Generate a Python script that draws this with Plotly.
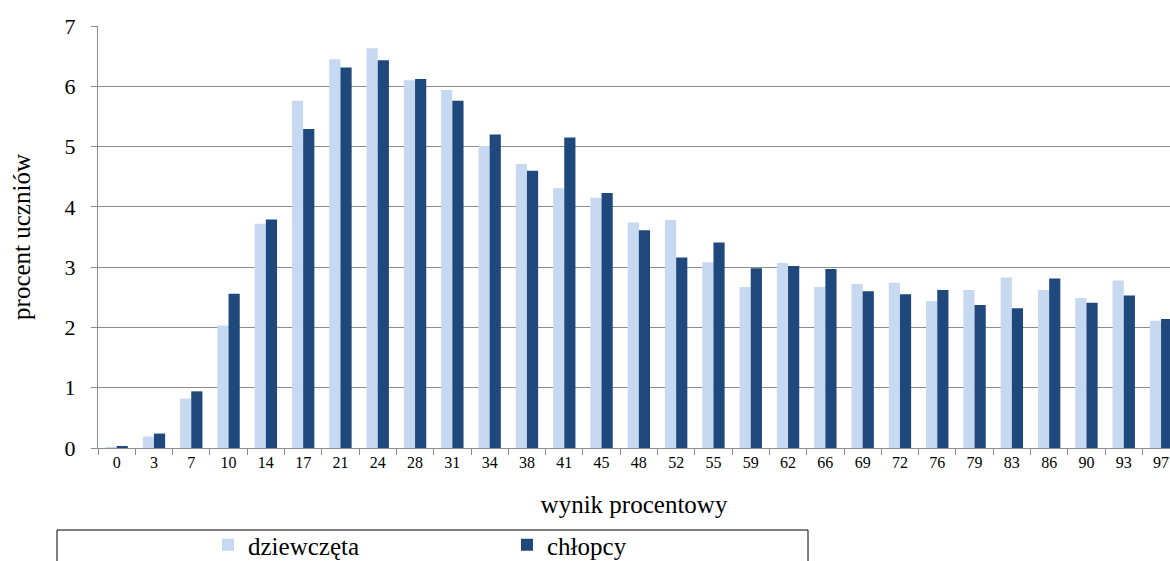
import plotly.graph_objects as go

categories = ["0", "3", "7", "10", "14", "17", "21", "24", "28", "31", "34", "38", "41", "45",
              "48", "52", "55", "59", "62", "66", "69", "72", "76", "79", "83", "86", "90", "93", "97"]
dziewczeta = [0.01, 0.19, 0.82, 2.03, 3.72, 5.76, 6.45, 6.63, 6.10, 5.94, 5.01, 4.71, 4.31, 4.15,
              3.74, 3.78, 3.08, 2.67, 3.07, 2.67, 2.72, 2.74, 2.44, 2.62, 2.83, 2.62, 2.49, 2.78, 2.11]
chlopcy = [0.03, 0.24, 0.94, 2.56, 3.79, 5.29, 6.31, 6.43, 6.12, 5.76, 5.20, 4.60, 5.15, 4.23,
           3.61, 3.16, 3.41, 2.98, 3.02, 2.97, 2.60, 2.55, 2.62, 2.37, 2.32, 2.81, 2.41, 2.53, 2.14]
y_ticks = [0, 1, 2, 3, 4, 5, 6, 7]

FONT = "Liberation Serif"
W, H = 1170, 561
L, R, T, B = 98, 0, 26, 113
pw, ph = W - L - R, H - T - B

def px_x(p):
    return (p - L) / pw

def px_y(p):
    return (H - B - p) / ph

fig = go.Figure()
fig.add_trace(go.Bar(x=categories, y=dziewczeta, name="dziewczęta",
                     marker=dict(color="#C6D9F1", line=dict(width=0))))
fig.add_trace(go.Bar(x=categories, y=chlopcy, name="chłopcy",
                     marker=dict(color="#1F497D", line=dict(width=0))))

fig.update_layout(
    width=W, height=H,
    margin=dict(l=L, r=R, t=T, b=B, pad=0, autoexpand=False),
    paper_bgcolor="white", plot_bgcolor="white",
    barmode="group", bargap=0.4, bargroupgap=0,
    font=dict(family=FONT, color="black"),
    showlegend=True,
    legend=dict(orientation="h", x=px_x(208), y=px_y(545), xanchor="left", yanchor="middle",
                font=dict(family=FONT, size=25, color="black"),
                entrywidth=254, entrywidthmode="pixels",
                bgcolor="rgba(0,0,0,0)", borderwidth=0,
                itemclick=False),
    shapes=[dict(type="rect", xref="paper", yref="paper",
                 x0=px_x(57), x1=px_x(808), y0=px_y(530), y1=px_y(575),
                 line=dict(color="black", width=1), fillcolor="rgba(0,0,0,0)", layer="above")],
)

fig.update_xaxes(
    type="category", range=[-0.5, 28.24], automargin=False,
    showline=True, linecolor="#8c8c8c", linewidth=1,
    ticks="outside", tickson="boundaries", ticklen=6, tickcolor="#8c8c8c",
    tickfont=dict(family=FONT, size=16, color="black"),
    showgrid=False,
    title=dict(text="wynik procentowy", font=dict(family=FONT, size=25, color="black"), standoff=25),
)
fig.update_yaxes(
    range=[0, 7], tickvals=y_ticks, automargin=False,
    showline=True, linecolor="#8c8c8c", linewidth=1,
    ticks="outside", ticklen=6, tickcolor="#8c8c8c",
    showgrid=True, gridcolor="#8c8c8c", gridwidth=1,
    zeroline=False,
    tickfont=dict(family=FONT, size=22, color="black"),
    ticklabelstandoff=11,
    title=dict(text="procent uczniów", font=dict(family=FONT, size=25, color="black"), standoff=26),
)

fig.write_html("out.html", config={"displayModeBar": False},
               post_script="document.body.style.margin='0';document.body.style.padding='0';")
